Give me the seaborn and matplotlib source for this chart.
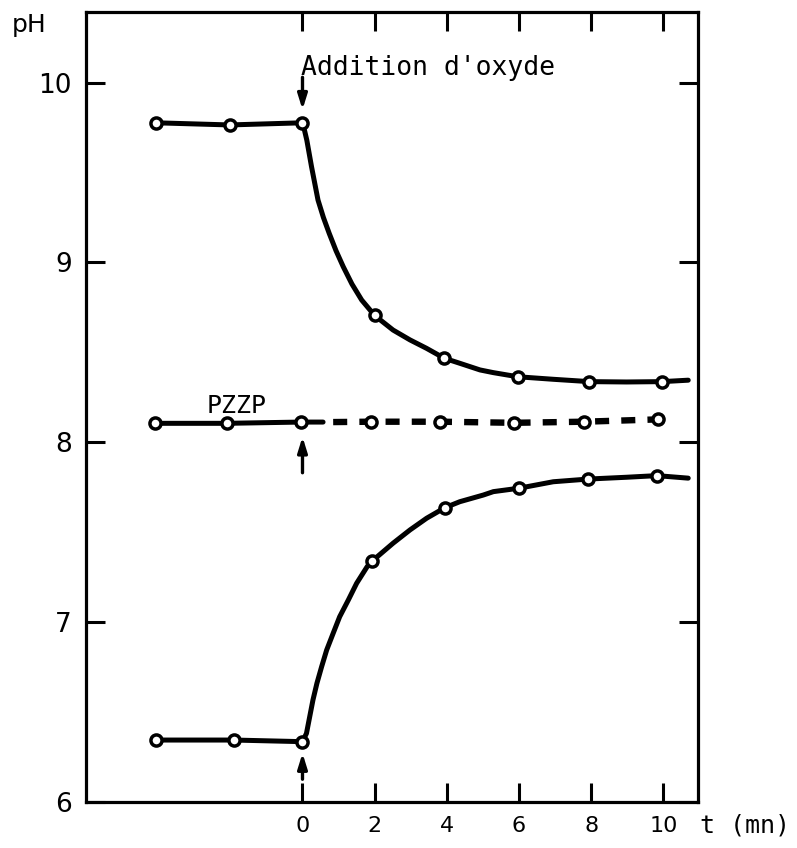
import numpy as np
import pandas as pd
import matplotlib
matplotlib.use("Agg")
import matplotlib.pyplot as plt
import seaborn as sns

# ---- measured points (open circles) ----
t_high_pts = [-4.07, -2.02, 0.0, 2.0, 3.93, 5.97, 7.95, 9.97]
ph_high_pts = [9.777, 9.765, 9.777, 8.705, 8.467, 8.364, 8.337, 8.337]

t_pzzp_pts = [-4.1, -2.1, -0.05, 1.91, 3.81, 5.87, 7.81, 9.86]
ph_pzzp_pts = [8.105, 8.105, 8.112, 8.114, 8.114, 8.108, 8.114, 8.127]

t_low_pts = [-4.07, -1.9, 0.0, 1.92, 3.95, 6.0, 7.92, 9.82]
ph_low_pts = [6.343, 6.343, 6.334, 7.337, 7.636, 7.744, 7.795, 7.814]

# ---- drawn curves ----
t_high_curve = [-4.07, -2.02, 0.0, 0.05, 0.12, 0.25, 0.43, 0.58, 0.74, 0.93, 1.13,
                1.37, 1.64, 2.0, 2.51, 2.98, 3.44, 3.93, 4.36, 4.92, 5.29, 5.97,
                6.95, 7.95, 8.98, 9.97, 10.69]
ph_high_curve = [9.777, 9.765, 9.777, 9.74, 9.68, 9.533, 9.347, 9.25, 9.162, 9.065, 8.976,
                 8.88, 8.791, 8.705, 8.624, 8.569, 8.522, 8.467, 8.439, 8.402, 8.387, 8.364,
                 8.35, 8.337, 8.335, 8.337, 8.345]

t_low_curve = [-4.07, -1.9, 0.0, 0.11, 0.2, 0.29, 0.4, 0.53, 0.67, 0.85, 1.03,
               1.27, 1.5, 1.79, 1.92, 2.51, 2.98, 3.44, 3.95, 4.36, 5.01, 5.29,
               6.0, 6.95, 7.92, 8.98, 9.82, 10.69]
ph_low_curve = [6.343, 6.343, 6.334, 6.38, 6.473, 6.566, 6.659, 6.751, 6.844, 6.937, 7.029,
                7.122, 7.215, 7.307, 7.337, 7.438, 7.512, 7.577, 7.636, 7.669, 7.706, 7.725,
                7.744, 7.78, 7.795, 7.805, 7.814, 7.80]

t_pzzp_solid = [-4.1, -2.1, -0.05, 0.57]
ph_pzzp_solid = [8.105, 8.105, 8.112, 8.112]
t_pzzp_dash = [0.85, 1.91, 3.81, 5.87, 7.81, 9.86]
ph_pzzp_dash = [8.112, 8.114, 8.114, 8.108, 8.114, 8.127]

x_ticks = [0, 2, 4, 6, 8, 10]
y_ticks = [6, 7, 8, 9, 10]

sns.set_style("ticks")
plt.rcParams["font.family"] = ["DejaVu Sans", "DejaVu Sans Mono"]
plt.rcParams["text.color"] = "black"
plt.rcParams["xtick.color"] = "black"
plt.rcParams["ytick.color"] = "black"
plt.rcParams["xtick.labelcolor"] = "black"
plt.rcParams["ytick.labelcolor"] = "black"
plt.rcParams["lines.solid_capstyle"] = "round"

fig = plt.figure(figsize=(7.97, 8.48), dpi=100)
ax = fig.add_axes([0.1079, 0.0546, 0.8762 - 0.1079, 0.9862 - 0.0546])

lw = 3.6
curve_kw = dict(color="black", linewidth=lw, sort=False, estimator=None, ax=ax)

hi = pd.DataFrame({"t": t_high_curve, "pH": ph_high_curve})
lo = pd.DataFrame({"t": t_low_curve, "pH": ph_low_curve})
ps = pd.DataFrame({"t": t_pzzp_solid, "pH": ph_pzzp_solid})
pdash = pd.DataFrame({"t": t_pzzp_dash, "pH": ph_pzzp_dash})

sns.lineplot(data=hi, x="t", y="pH", **curve_kw)
sns.lineplot(data=lo, x="t", y="pH", **curve_kw)
sns.lineplot(data=ps, x="t", y="pH", **curve_kw)
n_before = len(ax.lines)
sns.lineplot(data=pdash, x="t", y="pH", color="black", linewidth=4.6,
             sort=False, estimator=None, ax=ax)
for ln in ax.lines[n_before:]:
    ln.set_linestyle((0, (2.2, 1.9)))
    ln.set_dash_capstyle("butt")

pts = pd.DataFrame({
    "t": t_high_pts + t_pzzp_pts + t_low_pts,
    "pH": ph_high_pts + ph_pzzp_pts + ph_low_pts,
})
ax.plot(pts["t"], pts["pH"], linestyle="none", marker="o", markersize=8.0,
        markerfacecolor="white", markeredgecolor="black", markeredgewidth=2.5,
        zorder=5)

# arrows
arrow_kw = dict(arrowstyle="-|>,head_length=0.9,head_width=0.28", color="black",
                lw=2.4, shrinkA=0, shrinkB=0)
ax.annotate("", xy=(0.0, 9.85), xytext=(0.0, 10.03), arrowprops=arrow_kw)
ax.annotate("", xy=(0.0, 8.03), xytext=(0.0, 7.83), arrowprops=arrow_kw)
ax.annotate("", xy=(0.0, 6.27), xytext=(0.0, 6.125), arrowprops=arrow_kw)

ax.text(-0.05, 10.043, "Addition d'oxyde", fontsize=19, ha="left", va="baseline",
        family=["DejaVu Sans Mono"])
ax.text(-2.65, 8.163, "PZZP", fontsize=18, ha="left", va="baseline",
        family=["DejaVu Sans Mono"])

ax.set_xlim(-6.0, 10.97)
ax.set_ylim(6.0, 10.395)
ax.set_xticks(x_ticks)
ax.set_yticks(y_ticks)
ax.set_xticklabels([str(v) for v in x_ticks], fontsize=16)
ax.set_yticklabels([str(v) for v in y_ticks], fontsize=19)
ax.tick_params(direction="in", length=14, width=2.2, top=True, right=True,
               pad=10, color="black", labelcolor="black")
ax.tick_params(axis="y", pad=10)
for s in ax.spines.values():
    s.set_linewidth(2.3)
    s.set_color("black")
ax.set_xlabel("")
ax.set_ylabel("")

fig.text(12 / 797, 1 - 32 / 848, "pH", fontsize=18, ha="left", va="baseline",
         family=["DejaVu Sans"])
fig.text(700 / 797, 1 - 832 / 848, "t (mn)", fontsize=18, ha="left", va="baseline",
         family=["DejaVu Sans Mono"])

fig.savefig("out.png", dpi=100, facecolor="white")
